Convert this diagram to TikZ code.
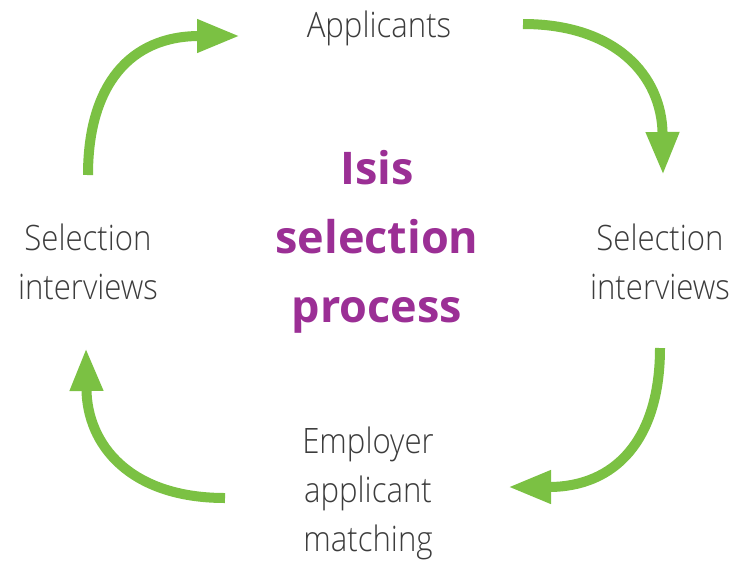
\documentclass[tikz,border=0pt]{standalone}
\usepackage{fontspec}
\setmainfont{Open Sans}
\newfontfamily\lightfont{Open Sans Light}[FakeStretch=0.89]
\usetikzlibrary{arrows.meta}
\definecolor{arrowgreen}{HTML}{7BC143}
\definecolor{titlepurple}{HTML}{9B2F95}
\definecolor{labelgray}{HTML}{3C3C3C}
\begin{document}
\begin{tikzpicture}[x=1pt,y=-1pt,
  lbl/.style={font=\lightfont\fontsize{35}{49}\selectfont, text=labelgray, align=center, inner sep=0pt, anchor=base},
  ttl/.style={font=\bfseries\fontsize{45}{69}\selectfont, text=titlepurple, align=center, inner sep=0pt, anchor=base},
  cyc/.style={draw=arrowgreen, line width=10pt, -{Triangle[length=43pt,width=31pt]}}]
\useasboundingbox (0,0) rectangle (738,563);
\node[lbl] (app) at (379,37) {Applicants};
\node[lbl] (left) at (88,299) {Selection\\interviews};
\node[lbl] (right) at (660,299) {Selection\\interviews};
\node[lbl] (emp) at (368,551) {Employer\\applicant\\matching};
\node[ttl] (title) at (377,322) {Isis\\selection\\process};
\coordinate (a1s) at (88,175);  \coordinate (a1e) at (240,36);
\coordinate (a2s) at (523,24);  \coordinate (a2e) at (663,175);
\coordinate (a3s) at (660,348); \coordinate (a3e) at (508,487);
\coordinate (a4s) at (225,498); \coordinate (a4e) at (86,348);
\draw[cyc] (a1s) .. controls (88,85) and (130,36) .. (a1e);
\draw[cyc] (a2s) .. controls (615,24) and (662,75) .. (a2e);
\draw[cyc] (a3s) .. controls (660,440) and (615,487) .. (a3e);
\draw[cyc] (a4s) .. controls (130,498) and (87,445) .. (a4e);
\end{tikzpicture}
\end{document}
